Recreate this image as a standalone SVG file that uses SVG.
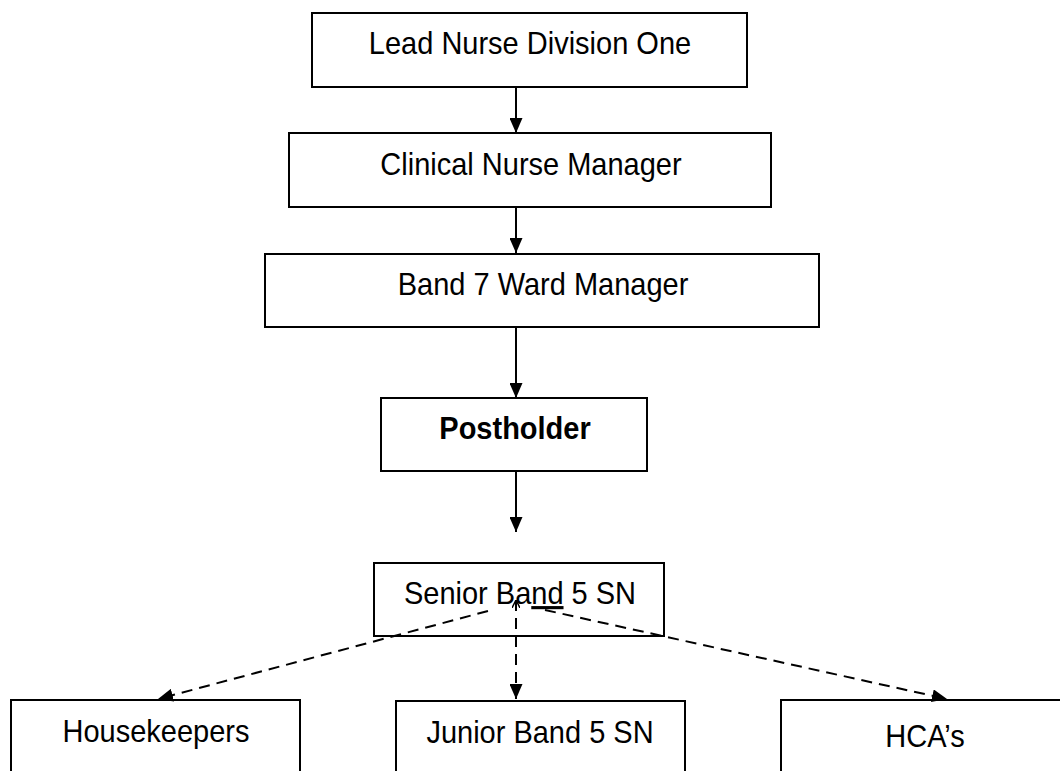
<svg xmlns="http://www.w3.org/2000/svg" width="1060" height="771" viewBox="0 0 1060 771">
<defs>
<style>
.box{fill:#fff;stroke:#000;stroke-width:2}
.lbl{font-family:"Liberation Sans",Arial,sans-serif;font-size:29px;fill:#000;text-anchor:middle}
.bold{font-weight:bold}
.solid{stroke:#000;stroke-width:2;fill:none}
.dash{stroke:#000;stroke-width:2;fill:none;stroke-dasharray:11 7}
</style>
<marker id="ah" viewBox="0 0 15 13" refX="15" refY="6.5" markerWidth="15" markerHeight="13" markerUnits="userSpaceOnUse" orient="auto">
<path d="M0,0 L15,6.5 L0,13 Z" fill="#000"/>
</marker>
<marker id="ahs" viewBox="0 0 8 8" refX="8" refY="4" markerWidth="8" markerHeight="8" markerUnits="userSpaceOnUse" orient="auto-start-reverse">
<path d="M0,0 L8,4 L0,8" fill="none" stroke="#000" stroke-width="1.5"/>
</marker>
</defs>
<rect width="1060" height="771" fill="#fff"/>
<g id="connectors">
<line class="solid" x1="516" y1="87" x2="516" y2="133" marker-end="url(#ah)"/>
<line class="solid" x1="516" y1="207" x2="516" y2="253" marker-end="url(#ah)"/>
<line class="solid" x1="516" y1="327" x2="516" y2="398" marker-end="url(#ah)"/>
<line class="solid" x1="516" y1="471" x2="516" y2="532" marker-end="url(#ah)"/>
</g>
<g id="lead-nurse">
<rect class="box" x="312" y="13" width="435" height="74"/>
<text class="lbl" transform="translate(530,54) scale(1,1.08)">Lead Nurse Division One</text>
</g>
<g id="clinical-nurse-manager">
<rect class="box" x="289" y="133" width="482" height="74"/>
<text class="lbl" transform="translate(531,175) scale(1,1.08)">Clinical Nurse Manager</text>
</g>
<g id="band7-ward-manager">
<rect class="box" x="265" y="254" width="554" height="73"/>
<text class="lbl" transform="translate(543,295) scale(1,1.08)">Band 7 Ward Manager</text>
</g>
<g id="postholder">
<rect class="box" x="381" y="398" width="266" height="73"/>
<text class="lbl bold" transform="translate(515,439) scale(1,1.08)">Postholder</text>
</g>
<g id="senior-band5">
<rect class="box" x="374" y="563" width="290" height="73"/>
<text class="lbl" transform="translate(520,604) scale(1,1.08)">Senior Ba<tspan text-decoration="underline">nd</tspan> 5 SN</text>
</g>
<g id="housekeepers">
<rect class="box" x="11" y="700" width="289" height="90"/>
<text class="lbl" transform="translate(156,742) scale(1,1.08)">Housekeepers</text>
</g>
<g id="junior-band5">
<rect class="box" x="396" y="701" width="289" height="90"/>
<text class="lbl" transform="translate(540,743) scale(1,1.08)">Junior Band 5 SN</text>
</g>
<g id="hcas">
<rect class="box" x="781" y="700" width="300" height="90"/>
<text class="lbl" transform="translate(925,747) scale(1,1.08)">HCA’s</text>
</g>
<g id="dashed-connectors">
<line class="dash" x1="488" y1="611" x2="158" y2="699" marker-end="url(#ah)"/>
<line class="dash" x1="516" y1="600" x2="516" y2="699" marker-start="url(#ahs)" marker-end="url(#ah)"/>
<line class="dash" x1="545" y1="610" x2="947" y2="699" marker-end="url(#ah)"/>
</g>
</svg>
